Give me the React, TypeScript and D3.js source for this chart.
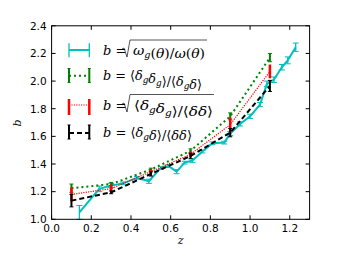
import React from "react";
import { scaleLinear, line } from "d3";

// bias from angular clustering (fine bins)
const cyanZ = [0.14, 0.24, 0.3, 0.36, 0.43, 0.49, 0.55, 0.59, 0.63, 0.67, 0.71, 0.76, 0.81, 0.87, 0.9, 0.95, 1.0, 1.05, 1.085, 1.12, 1.16, 1.19, 1.23];
const cyanB = [1.05, 1.22, 1.245, 1.26, 1.3, 1.275, 1.37, 1.385, 1.345, 1.41, 1.425, 1.49, 1.55, 1.555, 1.62, 1.69, 1.745, 1.83, 1.98, 2.01, 2.1, 2.15, 2.245];
const cyanErr = [0.05, 0.02, 0.015, 0.01, 0.01, 0.015, 0.01, 0.01, 0.015, 0.01, 0.015, 0.01, 0.01, 0.01, 0.015, 0.015, 0.015, 0.015, 0.02, 0.02, 0.02, 0.025, 0.03];

// coarse bins
const binZ = [0.1, 0.3, 0.5, 0.7, 0.9, 1.1];
const greenB = [1.225, 1.255, 1.36, 1.495, 1.745, 2.17];
const greenErr = [0.03, 0.012, 0.01, 0.015, 0.025, 0.03];
const redB = [1.18, 1.222, 1.345, 1.47, 1.685, 2.07];
const redErr = [0.05, 0.03, 0.02, 0.02, 0.05, 0.05];
const blackB = [1.135, 1.195, 1.328, 1.458, 1.627, 1.965];
const blackErr = [0.045, 0.01, 0.015, 0.02, 0.03, 0.04];

const xTicks = [0, 0.2, 0.4, 0.6, 0.8, 1.0, 1.2];
const yTicks = [1.0, 1.2, 1.4, 1.6, 1.8, 2.0, 2.2, 2.4];

const W = 344;
const H = 258;
const L = 51.6, R = 309.6, T = 25.8, B = 219.3;

const x = scaleLinear().domain([0, 1.3]).range([L, R]);
const y = scaleLinear().domain([1, 2.4]).range([B, T]);

const series = [
  { z: cyanZ, b: cyanB, e: cyanErr, color: "#00bfbf", width: 2, dash: null, barW: 1.3, cap: 3 },
  { z: binZ, b: greenB, e: greenErr, color: "#008000", width: 2, dash: "2,3", barW: 2, cap: 2 },
  { z: binZ, b: redB, e: redErr, color: "#ff0000", width: 1.2, dash: "1.2,1.2", barW: 2.5, cap: 0 },
  { z: binZ, b: blackB, e: blackErr, color: "#000000", width: 2, dash: "5,3", barW: 2, cap: 2 },
];

const serif = "'DejaVu Serif', serif";
const sans = "'DejaVu Sans', sans-serif";

const I = ({ children }) => <tspan fontStyle="italic">{children}</tspan>;
const Sub = ({ children }) => (
  <>
    <tspan fontStyle="italic" fontSize={9} dy={3}>{children}</tspan>
    <tspan dy={-3}></tspan>
  </>
);

const Radical = ({ x0, top, base, x1 }) => (
  <path
    d={`M${x0},${base - 5} L${x0 + 2},${base - 6} L${x0 + 5},${base + 3} L${x0 + 8},${top} L${x1},${top}`}
    fill="none"
    stroke="#000"
    strokeWidth={0.9}
    opacity={0.75}
  />
);

export default function App() {
  const path = (s) =>
    line()
      .x((d) => x(d[0]))
      .y((d) => y(d[1]))(s.z.map((z, i) => [z, s.b[i]]));

  const legendRows = [
    { y: 50, bar: [43.3, 57.3] },
    { y: 75.7, bar: [68.5, 82.5] },
    { y: 105, bar: [99, 115] },
    { y: 133, bar: [125, 139] },
  ];

  return (
    <svg width={W} height={H} style={{ position: "absolute", left: 0, top: 0 }}>
      <rect width={W} height={H} fill="#fff" />
      {series.map((s, k) => (
        <g key={k}>
          <path
            d={path(s)}
            fill="none"
            stroke={s.color}
            strokeWidth={s.width}
            strokeDasharray={s.dash || undefined}
            strokeLinejoin="round"
          />
          {s.z.map((z, i) => (
            <g key={i} stroke={s.color}>
              <line x1={x(z)} x2={x(z)} y1={y(s.b[i] - s.e[i])} y2={y(s.b[i] + s.e[i])} strokeWidth={s.barW} />
              {s.cap > 0 && (
                <>
                  <line x1={x(z) - s.cap} x2={x(z) + s.cap} y1={y(s.b[i] - s.e[i])} y2={y(s.b[i] - s.e[i])} strokeWidth={1} />
                  <line x1={x(z) - s.cap} x2={x(z) + s.cap} y1={y(s.b[i] + s.e[i])} y2={y(s.b[i] + s.e[i])} strokeWidth={1} />
                </>
              )}
            </g>
          ))}
        </g>
      ))}

      {/* frame and ticks */}
      <rect x={L} y={T} width={R - L} height={B - T} fill="none" stroke="#000" strokeWidth={1} />
      {xTicks.map((t) => (
        <g key={t}>
          <line x1={x(t)} x2={x(t)} y1={B} y2={B - 4} stroke="#000" />
          <line x1={x(t)} x2={x(t)} y1={T} y2={T + 4} stroke="#000" />
          <text x={x(t)} y={B + 13} textAnchor="middle" fontFamily={sans} fontSize={10.5}>
            {t.toFixed(1)}
          </text>
        </g>
      ))}
      {yTicks.map((t) => (
        <g key={t}>
          <line x1={L} x2={L + 4} y1={y(t)} y2={y(t)} stroke="#000" />
          <line x1={R} x2={R - 4} y1={y(t)} y2={y(t)} stroke="#000" />
          <text x={L - 5} y={y(t) + 3.8} textAnchor="end" fontFamily={sans} fontSize={10.5}>
            {t.toFixed(1)}
          </text>
        </g>
      ))}
      <text x={(L + R) / 2} y={244} textAnchor="middle" fontFamily={serif} fontStyle="italic" fontSize={11}>
        z
      </text>
      <text transform={`translate(21,123) rotate(-90)`} textAnchor="middle" fontFamily={serif} fontStyle="italic" fontSize={11}>
        b
      </text>

      {/* legend */}
      {series.map((s, k) => {
        const r = legendRows[k];
        return (
          <g key={k} stroke={s.color}>
            <line x1={69} x2={89.3} y1={r.y} y2={r.y} strokeWidth={s.width} strokeDasharray={s.dash || undefined} />
            {[69, 89.3].map((bx) => (
              <g key={bx}>
                <line x1={bx} x2={bx} y1={r.bar[0]} y2={r.bar[1]} strokeWidth={s.barW} />
                {s.cap > 0 && k > 0 && (
                  <>
                    <line x1={bx - 1.5} x2={bx + 1.5} y1={r.bar[0]} y2={r.bar[0]} strokeWidth={1} />
                    <line x1={bx - 1.5} x2={bx + 1.5} y1={r.bar[1]} y2={r.bar[1]} strokeWidth={1} />
                  </>
                )}
              </g>
            ))}
          </g>
        );
      })}

      <g fontFamily={serif} fontSize={13} fill="#000">
        <text x={103} y={55}>
          <I>b</I>
          <tspan> =</tspan>
        </text>
        <Radical x0={122} top={40} base={54} x1={207} />
        <text x={133} y={55} textLength={72} lengthAdjust="spacingAndGlyphs">
          <I>ω</I>
          <Sub>g</Sub>
          <tspan>(</tspan>
          <I>θ</I>
          <tspan>)/</tspan>
          <I>ω</I>
          <tspan>(</tspan>
          <I>θ</I>
          <tspan>)</tspan>
        </text>

        <text x={103} y={80} textLength={99} lengthAdjust="spacingAndGlyphs">
          <I>b</I>
          <tspan> = ⟨</tspan>
          <I>δ</I>
          <Sub>g</Sub>
          <I>δ</I>
          <Sub>g</Sub>
          <tspan>⟩/⟨</tspan>
          <I>δ</I>
          <Sub>g</Sub>
          <I>δ</I>
          <tspan>⟩</tspan>
        </text>

        <text x={103} y={110}>
          <I>b</I>
          <tspan> =</tspan>
        </text>
        <Radical x0={122} top={94.5} base={109} x1={214} />
        <text x={134} y={110} textLength={79} lengthAdjust="spacingAndGlyphs">
          <tspan>⟨</tspan>
          <I>δ</I>
          <Sub>g</Sub>
          <I>δ</I>
          <Sub>g</Sub>
          <tspan>⟩/⟨</tspan>
          <I>δδ</I>
          <tspan>⟩</tspan>
        </text>

        <text x={103} y={137} textLength={89} lengthAdjust="spacingAndGlyphs">
          <I>b</I>
          <tspan> = ⟨</tspan>
          <I>δ</I>
          <Sub>g</Sub>
          <I>δ</I>
          <tspan>⟩/⟨</tspan>
          <I>δδ</I>
          <tspan>⟩</tspan>
        </text>
      </g>
    </svg>
  );
}
